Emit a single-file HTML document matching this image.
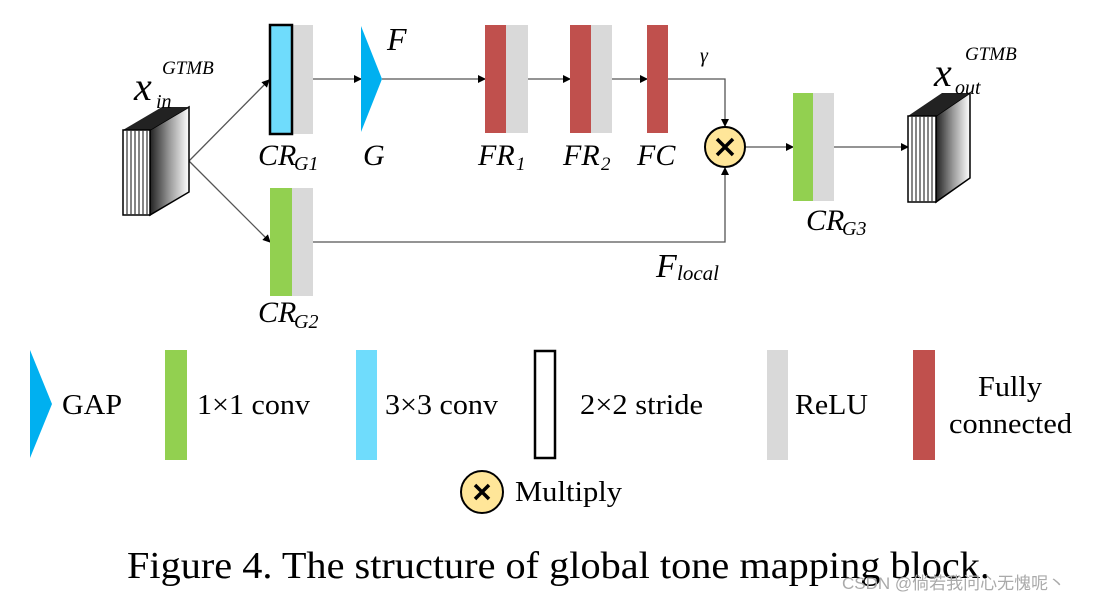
<!DOCTYPE html>
<html><head><meta charset="utf-8"><style>
body{margin:0;background:#fff;width:1100px;height:603px;overflow:hidden}
svg text{font-family:"Liberation Serif",serif}
</style></head><body>
<svg width="1100" height="603" viewBox="0 0 1100 603" xmlns="http://www.w3.org/2000/svg">
<defs>
<marker id="a" markerWidth="8" markerHeight="8" refX="7" refY="4" orient="auto" markerUnits="userSpaceOnUse"><path d="M0,0 L8,4 L0,8Z" fill="#000"/></marker>
<linearGradient id="cg" x1="0" x2="1"><stop offset="0" stop-color="#222"/><stop offset="0.5" stop-color="#999"/><stop offset="1" stop-color="#fff"/></linearGradient>
</defs>
<g stroke="#555" stroke-width="1.3" fill="none">
<line x1="189" y1="161" x2="269" y2="80" marker-end="url(#a)"/>
<line x1="189" y1="161" x2="270" y2="242" marker-end="url(#a)"/>
<line x1="313" y1="79" x2="361" y2="79" marker-end="url(#a)"/>
<line x1="382" y1="79" x2="485" y2="79" marker-end="url(#a)"/>
<line x1="528" y1="79" x2="570" y2="79" marker-end="url(#a)"/>
<line x1="612" y1="79" x2="647" y2="79" marker-end="url(#a)"/>
<polyline points="668,79 725,79 725,126" marker-end="url(#a)"/>
<polyline points="313,242 725,242 725,168" marker-end="url(#a)"/>
<line x1="746" y1="147" x2="793" y2="147" marker-end="url(#a)"/>
<line x1="834" y1="147" x2="908" y2="147" marker-end="url(#a)"/>
</g>
<g>
<polygon points="150,130 189,107 189,192 150,215" fill="url(#cg)" stroke="#000" stroke-width="1.5"/>
<polygon points="123,130 150,130 189,107 162,107" fill="#222"/>
<rect x="123" y="130" width="27" height="85" fill="#fff" stroke="#000" stroke-width="1.5"/>
<g stroke="#333" stroke-width="1.2"><line x1="127" y1="130" x2="127" y2="215"/><line x1="131" y1="130" x2="131" y2="215"/><line x1="135" y1="130" x2="135" y2="215"/><line x1="139" y1="130" x2="139" y2="215"/><line x1="143" y1="130" x2="143" y2="215"/><line x1="147" y1="130" x2="147" y2="215"/></g>
</g>
<g>
<polygon points="936,116 970,93 970,178 936,202" fill="url(#cg)" stroke="#000" stroke-width="1.5"/>
<polygon points="908,116 936,116 970,93 942,93" fill="#222"/>
<rect x="908" y="116" width="28" height="86" fill="#fff" stroke="#000" stroke-width="1.5"/>
<g stroke="#333" stroke-width="1.2"><line x1="912" y1="116" x2="912" y2="202"/><line x1="916" y1="116" x2="916" y2="202"/><line x1="920" y1="116" x2="920" y2="202"/><line x1="924" y1="116" x2="924" y2="202"/><line x1="928" y1="116" x2="928" y2="202"/><line x1="932" y1="116" x2="932" y2="202"/></g>
</g>
<rect x="292" y="25" width="21" height="109" fill="#d9d9d9"/>
<rect x="270" y="25" width="22" height="109" fill="#6fdcfc" stroke="#000" stroke-width="2.5"/>
<polygon points="361,26 382,79 361,132" fill="#00b0f0"/>
<rect x="485" y="25" width="21" height="108" fill="#c0504d"/><rect x="506" y="25" width="22" height="108" fill="#d9d9d9"/>
<rect x="570" y="25" width="21" height="108" fill="#c0504d"/><rect x="591" y="25" width="21" height="108" fill="#d9d9d9"/>
<rect x="647" y="25" width="21" height="108" fill="#c0504d"/>
<rect x="270" y="188" width="22" height="108" fill="#92d050"/><rect x="292" y="188" width="21" height="108" fill="#d9d9d9"/>
<rect x="793" y="93" width="20" height="108" fill="#92d050"/><rect x="813" y="93" width="21" height="108" fill="#d9d9d9"/>
<circle cx="725" cy="147" r="20" fill="#ffe699" stroke="#000" stroke-width="2"/>
<path d="M717,139 L733,155 M733,139 L717,155" stroke="#000" stroke-width="3.5"/>
<g font-style="italic" fill="#000">
<text x="134" y="100" font-size="40">x</text><text x="156" y="108" font-size="20">in</text><text x="162" y="74" font-size="19">GTMB</text>
<text x="934" y="86" font-size="40">x</text><text x="955" y="94" font-size="20">out</text><text x="965" y="60" font-size="19">GTMB</text>
<text x="387" y="50" font-size="32">F</text>
<text x="700" y="62" font-size="20">γ</text>
<text x="656" y="277" font-size="34">F</text><text x="677" y="280" font-size="21">local</text>
<text x="258" y="165" font-size="30">CR</text><text x="294" y="170" font-size="20">G1</text>
<text x="258" y="322" font-size="30">CR</text><text x="294" y="328" font-size="20">G2</text>
<text x="806" y="230" font-size="30">CR</text><text x="842" y="235" font-size="20">G3</text>
<text x="363" y="165" font-size="30">G</text>
<text x="478" y="165" font-size="30">FR</text><text x="516" y="170" font-size="19">1</text>
<text x="563" y="165" font-size="30">FR</text><text x="601" y="170" font-size="19">2</text>
<text x="637" y="165" font-size="30">FC</text>
</g>
<polygon points="30,350 52,404 30,458" fill="#00b0f0"/>
<text x="62" y="414" font-size="28" textLength="60" lengthAdjust="spacingAndGlyphs">GAP</text>
<rect x="165" y="350" width="22" height="110" fill="#92d050"/>
<text x="197" y="414" font-size="28" textLength="113" lengthAdjust="spacingAndGlyphs">1×1 conv</text>
<rect x="356" y="350" width="21" height="110" fill="#6fdcfc"/>
<text x="385" y="414" font-size="28" textLength="113" lengthAdjust="spacingAndGlyphs">3×3 conv</text>
<rect x="535" y="351" width="20" height="107" fill="#fff" stroke="#000" stroke-width="2.5"/>
<text x="580" y="414" font-size="28" textLength="123" lengthAdjust="spacingAndGlyphs">2×2 stride</text>
<rect x="767" y="350" width="21" height="110" fill="#d9d9d9"/>
<text x="795" y="414" font-size="28" textLength="73" lengthAdjust="spacingAndGlyphs">ReLU</text>
<rect x="913" y="350" width="22" height="110" fill="#c0504d"/>
<text x="978" y="396" font-size="28" textLength="64" lengthAdjust="spacingAndGlyphs">Fully</text>
<text x="949" y="433" font-size="28" textLength="123" lengthAdjust="spacingAndGlyphs">connected</text>
<circle cx="482" cy="492" r="21" fill="#ffe699" stroke="#000" stroke-width="2"/>
<path d="M475,485 L489,499 M489,485 L475,499" stroke="#000" stroke-width="3.5"/>
<text x="515" y="501" font-size="28" textLength="107" lengthAdjust="spacingAndGlyphs">Multiply</text>
<text x="127" y="578" font-size="38" textLength="863" lengthAdjust="spacingAndGlyphs">Figure 4. The structure of global tone mapping block.</text>
<text x="842" y="589" font-size="17" fill="#aaa" style="font-family:'Liberation Sans','Noto Sans CJK SC',sans-serif">CSDN @倘若我问心无愧呢丶</text>
</svg>
</body></html>
